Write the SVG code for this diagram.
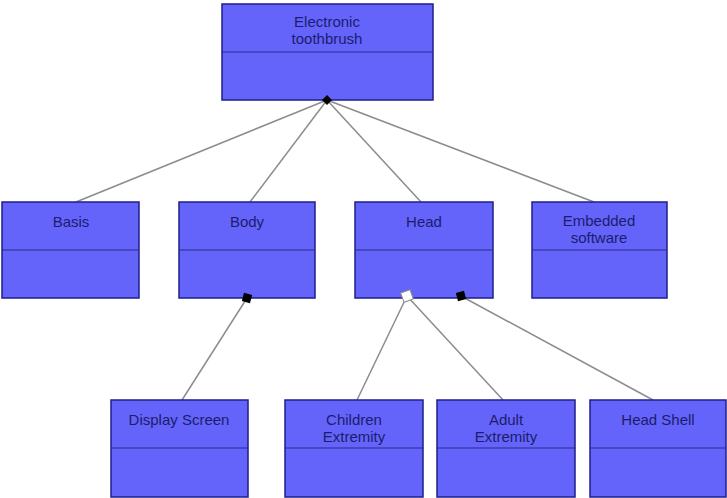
<svg xmlns="http://www.w3.org/2000/svg" width="727" height="498" viewBox="0 0 727 498">
<style>
.box{fill:#6464fa;stroke:#1e1e8c;stroke-width:1.5}
.div{stroke:#2a2a8c;stroke-width:1}
.t{font-family:"Liberation Sans",Arial,sans-serif;font-size:15px;fill:#1c1c6e;text-anchor:middle}
.c{stroke:#8c8c8c;stroke-width:1.5;fill:none}
.bd{fill:#000000}
.wd{fill:#ffffff;stroke:#8c8c8c;stroke-width:1}
</style>
<rect width="727" height="498" fill="#ffffff"/>
<g id="connectors">
<line class="c" x1="327" y1="100" x2="76" y2="202"/>
<line class="c" x1="327" y1="100" x2="250" y2="202"/>
<line class="c" x1="327" y1="100" x2="421" y2="202"/>
<line class="c" x1="327" y1="100" x2="594" y2="202"/>
<line class="c" x1="247" y1="298" x2="182" y2="400"/>
<line class="c" x1="407" y1="296" x2="357" y2="400"/>
<line class="c" x1="407" y1="296" x2="503" y2="400"/>
<line class="c" x1="461" y1="296" x2="653" y2="400"/>
</g>
<g id="n-toothbrush">
<rect class="box" x="222" y="4" width="211" height="96"/>
<line class="div" x1="222" y1="52" x2="433" y2="52"/>
<text class="t" x="327" y="27">Electronic</text>
<text class="t" x="327" y="44">toothbrush</text>
</g>
<g id="n-basis">
<rect class="box" x="2" y="202" width="137" height="96"/>
<line class="div" x1="2" y1="250" x2="139" y2="250"/>
<text class="t" x="71" y="227">Basis</text>
</g>
<g id="n-body">
<rect class="box" x="179" y="202" width="136" height="96"/>
<line class="div" x1="179" y1="250" x2="315" y2="250"/>
<text class="t" x="247" y="227">Body</text>
</g>
<g id="n-head">
<rect class="box" x="355" y="202" width="138" height="96"/>
<line class="div" x1="355" y1="250" x2="493" y2="250"/>
<text class="t" x="424" y="227">Head</text>
</g>
<g id="n-software">
<rect class="box" x="532" y="202" width="135" height="96"/>
<line class="div" x1="532" y1="250" x2="667" y2="250"/>
<text class="t" x="599" y="226">Embedded</text>
<text class="t" x="599" y="243">software</text>
</g>
<g id="n-display">
<rect class="box" x="111" y="400" width="137" height="97"/>
<line class="div" x1="111" y1="448" x2="248" y2="448"/>
<text class="t" x="179" y="425">Display Screen</text>
</g>
<g id="n-children">
<rect class="box" x="285" y="400" width="138" height="97"/>
<line class="div" x1="285" y1="448" x2="423" y2="448"/>
<text class="t" x="354" y="425">Children</text>
<text class="t" x="354" y="442">Extremity</text>
</g>
<g id="n-adult">
<rect class="box" x="437" y="400" width="138" height="97"/>
<line class="div" x1="437" y1="448" x2="575" y2="448"/>
<text class="t" x="506" y="425">Adult</text>
<text class="t" x="506" y="442">Extremity</text>
</g>
<g id="n-headshell">
<rect class="box" x="590" y="400" width="136" height="97"/>
<line class="div" x1="590" y1="448" x2="726" y2="448"/>
<text class="t" x="658" y="425">Head Shell</text>
</g>
<g id="ends">
<polygon class="bd" points="327,95 332,100 327,105 322,100"/>
<polygon class="bd" points="247,292 253,298 247,304 241,298" transform="rotate(-30 247 298)"/>
<polygon class="wd" points="407,289 414,296 407,303 400,296" transform="rotate(25 407 296)"/>
<polygon class="bd" points="461,290 467,296 461,302 455,296" transform="rotate(30 461 296)"/>
</g>
</svg>
